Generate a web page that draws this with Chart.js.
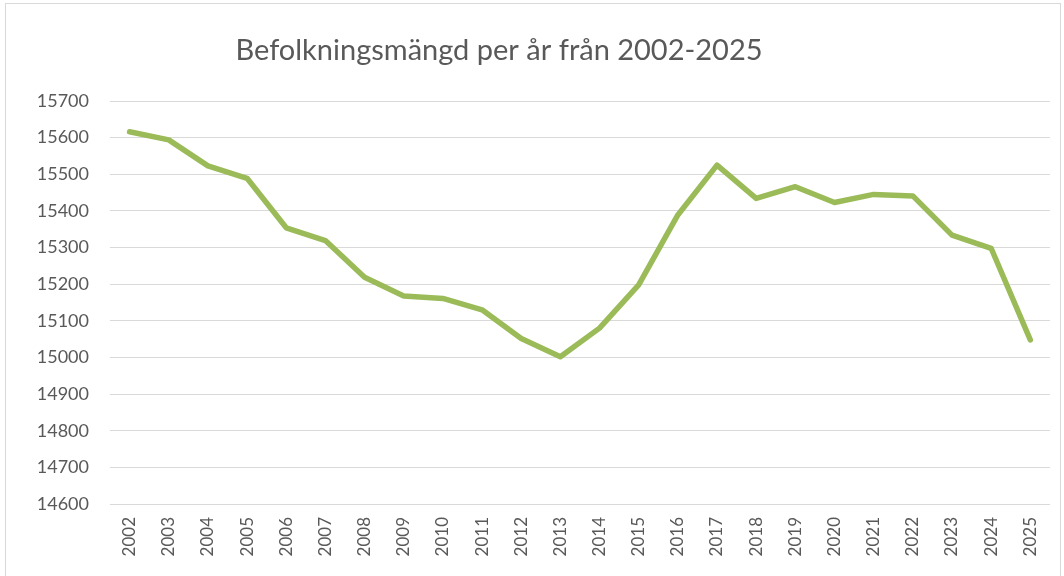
<!DOCTYPE html>
<html>
<head>
<meta charset="utf-8">
<script src="https://cdn.jsdelivr.net/npm/chart.js@4/dist/chart.umd.min.js"></script>
<style>
  body { margin: 0; background: #fff; }
  #wrap { position: relative; width: 1064px; height: 576px; overflow: hidden; }
  #frame { position: absolute; left: 5px; top: 3px; width: 1056px; height: 590px; border: 1px solid #d9d9d9; box-sizing: border-box; }
  canvas { position: absolute; left: 0; top: 0; }
</style>
</head>
<body>
<div id="wrap">
  <div id="frame"></div>
  <canvas id="pop_chart" width="1064" height="576"></canvas>
</div>
<script>
const years = [
  "2002", "2003", "2004", "2005", "2006", "2007", "2008", "2009",
  "2010", "2011", "2012", "2013", "2014", "2015", "2016", "2017",
  "2018", "2019", "2020", "2021", "2022", "2023", "2024", "2025",
];
const population = [
  15616, 15594, 15523, 15489, 15354, 15319, 15219, 15168,
  15161, 15130, 15052, 15002, 15080, 15198, 15389, 15525,
  15434, 15466, 15423, 15445, 15441, 15334, 15298, 15048,
];
const title = "Befolkningsmängd per år från 2002-2025";

const fontFamily = "Lato, 'Open Sans', sans-serif";
const textColor = "#595959";

// title drawn by hand so it can sit left of centre like the original
const titlePlugin = {
  id: "manualTitle",
  afterDraw(chart) {
    const c = chart.ctx;
    c.save();
    c.font = "29px " + fontFamily;
    c.fillStyle = textColor;
    c.textAlign = "center";
    c.textBaseline = "middle";
    c.fillText(title, 499, 51);
    c.restore();
  },
};

let ctx = document.getElementById("pop_chart");

new Chart(ctx, {
  type: "line",
  data: {
    labels: years,
    datasets: [
      {
        label: "Befolkning",
        data: population,
        borderColor: "#9bbb59",
        borderWidth: 5.5,
        borderJoinStyle: "round",
        borderCapStyle: "round",
        pointRadius: 0,
        tension: 0,
        fill: false,
      },
    ],
  },
  options: {
    responsive: false,
    animation: false,
    layout: {
      padding: { top: 101, right: 14, left: 0, bottom: 0 },
    },
    plugins: {
      legend: { display: false },
      title: { display: false },
      tooltip: { enabled: false },
    },
    scales: {
      x: {
        offset: true,
        grid: { display: false, drawTicks: false },
        border: { display: false },
        ticks: {
          minRotation: 90,
          maxRotation: 90,
          padding: 13,
          color: textColor,
          font: { family: fontFamily, size: 17 },
          autoSkip: false,
        },
        afterFit(scale) {
          scale.height = 72;
        },
      },
      y: {
        min: 14600,
        max: 15700,
        grid: { color: "#d9d9d9", lineWidth: 1, drawTicks: false },
        border: { display: false },
        ticks: {
          stepSize: 100,
          padding: 21,
          color: textColor,
          font: { family: fontFamily, size: 18 },
          callback: (v) => String(v),
        },
        afterFit(scale) {
          scale.width = 110;
        },
      },
    },
  },
  plugins: [titlePlugin],
});
</script>
</body>
</html>
